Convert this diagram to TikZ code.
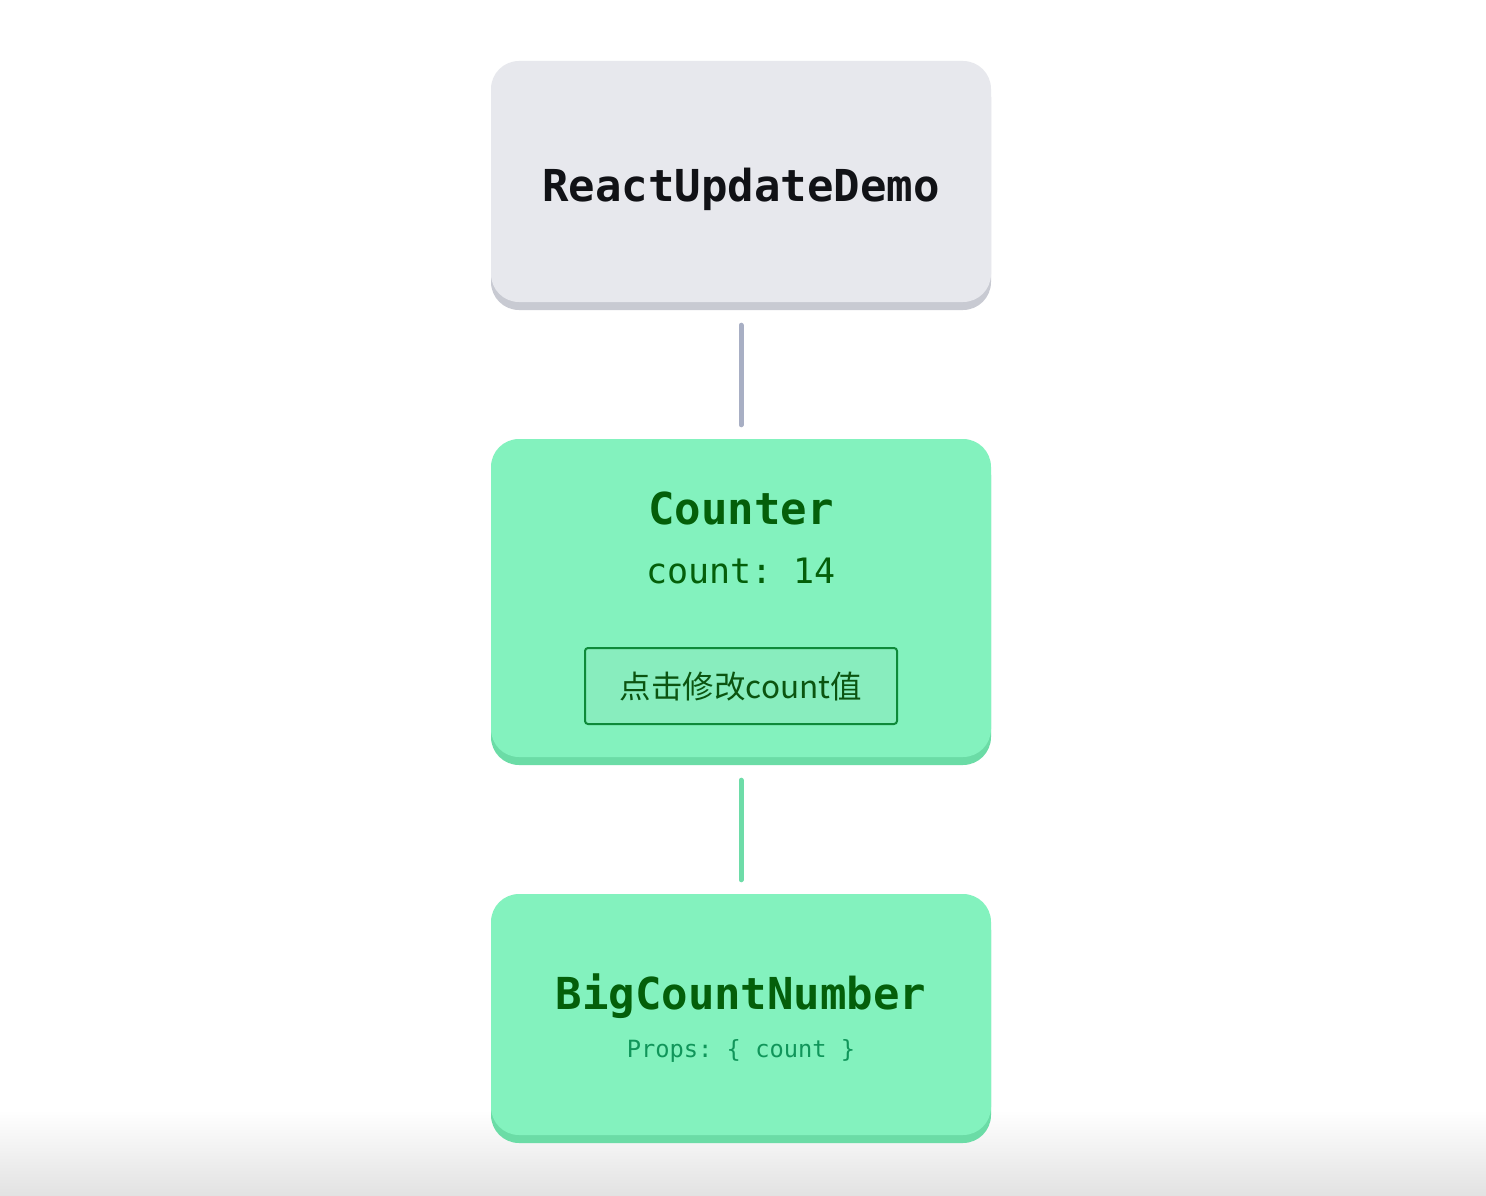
\documentclass[tikz,border=0pt]{standalone}
\usepackage{fontspec}
\setmonofont{DejaVu Sans Mono}
\newfontfamily\cjkfont{Noto Sans CJK SC}
\usetikzlibrary{positioning}
\definecolor{grayface}{HTML}{E7E8ED}
\definecolor{grayshadow}{HTML}{C8CAD2}
\definecolor{greenface}{HTML}{83F2BE}
\definecolor{greenshadow}{HTML}{6BDCA6}
\definecolor{titledark}{HTML}{111216}
\definecolor{titlegreen}{HTML}{045F0A}
\definecolor{propsgreen}{HTML}{10955A}
\definecolor{graylink}{HTML}{A8AFC4}
\definecolor{greenlink}{HTML}{6EDCA8}
\definecolor{btnborder}{HTML}{0E8A3A}
\definecolor{btnfill}{HTML}{88EDBE}
\definecolor{btntext}{HTML}{0B5410}
\definecolor{bottomgray}{HTML}{E2E2E2}
\tikzset{
  card/.style={rectangle, rounded corners=28pt, minimum width=500pt, inner sep=0pt, draw=none},
  link/.style={line width=5pt, line cap=round},
  monobold/.style={font=\ttfamily\bfseries\fontsize{44}{50}\selectfont, inner sep=0pt, anchor=base},
}
\begin{document}
\begin{tikzpicture}[x=1pt,y=-1pt]
\useasboundingbox (0,0) rectangle (1486,1196);
\fill[white] (0,0) rectangle (1486,1196);
\shade[top color=white, bottom color=bottomgray, draw=none] (0,1110) rectangle (1486,1196);
% shadows
\node[card, fill=grayshadow, minimum height=241pt] (demoshadow) at (741,189.5) {};
\node[card, fill=greenshadow, minimum height=318pt] (countershadow) at (741,606) {};
\node[card, fill=greenshadow, minimum height=241pt] (bigshadow) at (741,1022.5) {};
% faces
\node[card, fill=grayface, minimum height=241pt] (demo) at (741,181.5) {};
\node[card, fill=greenface, minimum height=318pt] (counter) at (741,598) {};
\node[card, fill=greenface, minimum height=241pt] (big) at (741,1014.5) {};
% texts
\node[monobold, text=titledark] (demotitle) at (741,201) {ReactUpdateDemo};
\node[monobold, text=titlegreen] (countertitle) at (741,524) {Counter};
\node[font=\ttfamily\fontsize{35}{40}\selectfont, inner sep=0pt, anchor=base, text=titlegreen] (countval) at (741,583) {count: 14};
\node[rectangle, rounded corners=3pt, draw=btnborder, line width=2pt, fill=btnfill, minimum width=312pt, minimum height=76pt, inner sep=0pt] (btn) at (741,686) {};
\node[font=\cjkfont\fontsize{31.5}{35}\selectfont, inner sep=0pt, anchor=base, text=btntext] (btntxt) at (741,698.5) {点击修改count值};
\node[monobold, text=titlegreen] (bigtitle) at (741,1009) {BigCountNumber};
\node[font=\ttfamily\fontsize{23.7}{28}\selectfont, inner sep=0pt, anchor=base, text=propsgreen] (props) at (741,1057) {Props: \{ count \}};
% connectors
\draw[link, graylink] ([yshift=-23pt]demo.south) -- ([yshift=14pt]counter.north);
\draw[link, greenlink] ([yshift=-23pt]counter.south) -- ([yshift=14pt]big.north);
\end{tikzpicture}
\end{document}
